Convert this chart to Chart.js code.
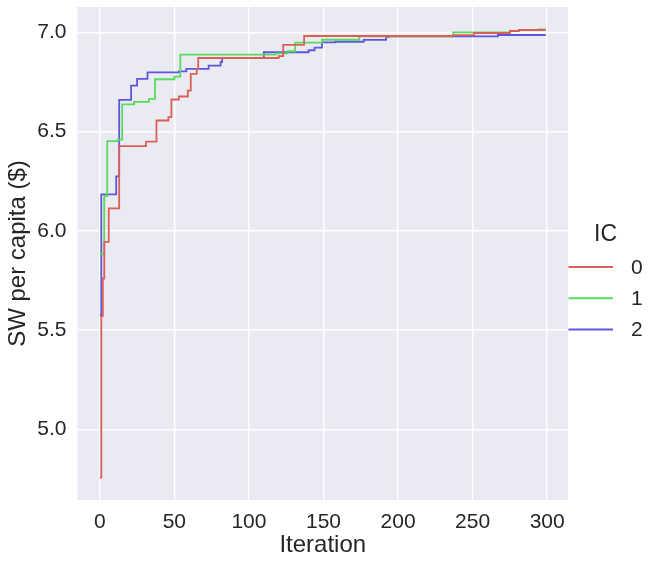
<!DOCTYPE html>
<html lang="en">
<head>
    <meta charset="UTF-8">
    <title>SW per capita by iteration</title>
    <script src="https://cdn.jsdelivr.net/npm/chart.js@4.4.0/dist/chart.umd.min.js"></script>
    <style>
        html, body {
            margin: 0;
            padding: 0;
            background: #ffffff;
        }
        #wrap {
            width: 662px;
            height: 565px;
        }
    </style>
</head>
<body>
    <div id="wrap"><canvas id="chart" width="662" height="565"></canvas></div>

    <script>
        // series: iteration where the best value changes, and the new value
        const ic0Iter = [0, 1, 2, 3, 6, 13, 31, 38, 46, 48, 53, 59, 61, 65, 66, 120, 123, 137, 237, 251, 275, 281, 299];
        const ic0Vals = [4.757, 5.57, 5.76, 5.945, 6.113, 6.427, 6.45, 6.556, 6.573, 6.662, 6.677, 6.707, 6.791, 6.816, 6.871, 6.88, 6.937, 6.982, 6.986, 6.997, 7.007, 7.012, 7.012];

        const ic1Iter = [0, 3, 5, 12, 15, 23, 33, 37, 50, 54, 118, 126, 131, 149, 174, 237, 275, 281, 294, 299];
        const ic1Vals = [5.883, 6.175, 6.452, 6.46, 6.637, 6.65, 6.665, 6.764, 6.777, 6.888, 6.894, 6.905, 6.948, 6.963, 6.98, 7.0, 7.008, 7.012, 7.015, 7.015];

        const ic2Iter = [0, 1, 11, 13, 21, 25, 32, 53, 58, 73, 81, 82, 110, 140, 144, 149, 158, 177, 192, 194, 267, 299];
        const ic2Vals = [5.576, 6.184, 6.275, 6.66, 6.732, 6.766, 6.799, 6.804, 6.816, 6.833, 6.85, 6.871, 6.9, 6.91, 6.923, 6.95, 6.953, 6.962, 6.977, 6.98, 6.987, 6.987];

        const seriesLabels = ['0', '1', '2'];
        const seriesColors = ['#db5f57', '#57db5f', '#5f57db'];

        const xTicks = [0, 50, 100, 150, 200, 250, 300];
        const yTicks = [5.0, 5.5, 6.0, 6.5, 7.0];

        const legendTitle = 'IC';
        const xTitle = 'Iteration';
        const yTitle = 'SW per capita ($)';

        const textColor = '#262626';
        const fontFamily = '"Liberation Sans", Arial, sans-serif';

        function toPoints(iters, vals) {
            return iters.map((x, i) => ({ x: x, y: vals[i] }));
        }

        const allSeries = [
            toPoints(ic0Iter, ic0Vals),
            toPoints(ic1Iter, ic1Vals),
            toPoints(ic2Iter, ic2Vals)
        ];

        // seaborn grey plot background
        const plotBackground = {
            id: 'plotBackground',
            beforeDraw(chart) {
                const { ctx, chartArea } = chart;
                ctx.save();
                ctx.fillStyle = '#eaeaf2';
                ctx.fillRect(chartArea.left, chartArea.top, chartArea.right - chartArea.left, chartArea.bottom - chartArea.top);
                ctx.restore();
            }
        };

        // legend drawn to the right of the axes, like seaborn's figure legend
        const sideLegend = {
            id: 'sideLegend',
            afterDraw(chart) {
                const ctx = chart.ctx;
                ctx.save();
                ctx.fillStyle = textColor;
                ctx.textBaseline = 'middle';
                ctx.textAlign = 'center';
                ctx.font = '23px ' + fontFamily;
                ctx.fillText(legendTitle, 605.5, 235);

                ctx.textAlign = 'left';
                ctx.font = '21px ' + fontFamily;
                chart.data.datasets.forEach((ds, i) => {
                    const y = 267 + i * 31.2;
                    ctx.strokeStyle = ds.borderColor;
                    ctx.lineWidth = 2;
                    ctx.beginPath();
                    ctx.moveTo(568.5, y);
                    ctx.lineTo(613, y);
                    ctx.stroke();
                    ctx.fillStyle = textColor;
                    ctx.fillText(ds.label, 631, y + 1);
                });
                ctx.restore();
            }
        };

        const ctx = document.getElementById('chart').getContext('2d');
        const chart = new Chart(ctx, {
            type: 'line',
            data: {
                datasets: allSeries.map((pts, i) => ({
                    label: seriesLabels[i],
                    data: pts,
                    borderColor: seriesColors[i],
                    backgroundColor: seriesColors[i],
                    borderWidth: 1.8,
                    pointRadius: 0,
                    stepped: 'before',
                    fill: false
                }))
            },
            options: {
                responsive: false,
                animation: false,
                layout: {
                    padding: { top: 7, right: 94, left: 0, bottom: 0 }
                },
                plugins: {
                    legend: { display: false },
                    tooltip: { enabled: false }
                },
                scales: {
                    x: {
                        type: 'linear',
                        min: -14.95,
                        max: 313.95,
                        afterBuildTicks(scale) {
                            scale.ticks = xTicks.map(v => ({ value: v }));
                        },
                        afterFit(scale) {
                            scale.height = 65;
                            scale.paddingLeft = 0;
                            scale.paddingRight = 0;
                        },
                        border: { display: false },
                        grid: {
                            color: '#ffffff',
                            lineWidth: 1.4,
                            drawTicks: false
                        },
                        ticks: {
                            color: textColor,
                            padding: 10,
                            maxRotation: 0,
                            font: { size: 21, family: fontFamily },
                            callback: v => String(v)
                        },
                        title: {
                            display: true,
                            text: xTitle,
                            color: textColor,
                            padding: { top: 0, bottom: 5 },
                            font: { size: 24, family: fontFamily }
                        }
                    },
                    y: {
                        type: 'linear',
                        min: 4.644,
                        max: 7.128,
                        afterBuildTicks(scale) {
                            scale.ticks = yTicks.map(v => ({ value: v }));
                        },
                        afterFit(scale) {
                            scale.width = 77.5;
                            scale.paddingTop = 0;
                            scale.paddingBottom = 0;
                        },
                        border: { display: false },
                        grid: {
                            color: '#ffffff',
                            lineWidth: 1.4,
                            drawTicks: false
                        },
                        ticks: {
                            color: textColor,
                            padding: 11,
                            font: { size: 21, family: fontFamily },
                            callback: v => v.toFixed(1)
                        },
                        title: {
                            display: true,
                            text: yTitle,
                            color: textColor,
                            padding: { top: 4, bottom: 0 },
                            font: { size: 24, family: fontFamily }
                        }
                    }
                }
            },
            plugins: [plotBackground, sideLegend]
        });
    </script>
</body>
</html>
